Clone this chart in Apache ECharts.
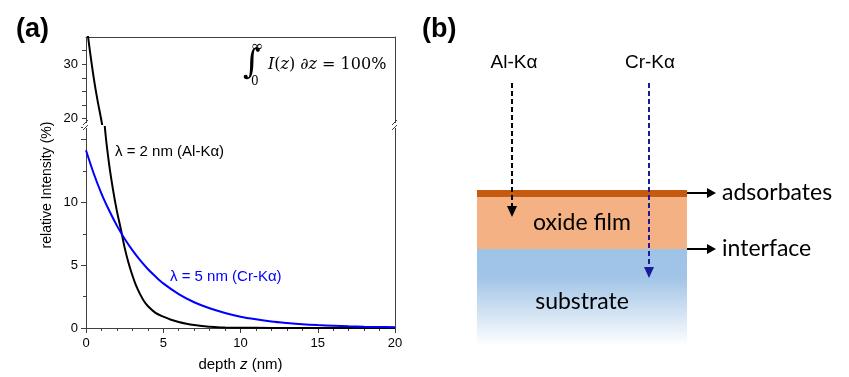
<!DOCTYPE html>
<html>
<head>
<meta charset="utf-8">
<script src="https://cdn.jsdelivr.net/npm/echarts@6/dist/echarts.min.js"></script>
<style>
  html, body { margin: 0; padding: 0; background: #fff; }
  #chart { width: 849px; height: 377px; }
</style>
</head>
<body>
<div id="chart"></div>
<script>
// depth z (nm) vs relative intensity (%)
var alDepth = [0, 0.25, 0.5, 0.75, 1.0, 1.25, 1.5, 1.75, 2.0, 2.25, 2.5, 2.75, 3.0, 3.25, 3.5, 3.75, 4.0, 4.5, 5.0, 5.5, 6.0, 6.5, 7.0, 7.5, 8.0, 8.5, 9.0, 10, 12, 14, 20];
var alInt   = [38, 32.5, 27.5, 23.3, 19.6, 15.6, 13.0, 11.0, 9.3, 7.9, 6.4, 5.2, 4.2, 3.35, 2.7, 2.15, 1.75, 1.2, 0.9, 0.66, 0.48, 0.34, 0.23, 0.15, 0.1, 0.06, 0.04, 0.02, 0.005, 0, 0];
var crDepth = [0, 0.5, 1, 1.5, 2, 2.5, 3, 3.5, 4, 4.5, 5, 6, 7, 8, 9, 10, 11, 12, 13, 14, 15, 16, 17, 18, 19, 20];
var crInt   = [14.15, 12.3, 10.7, 9.35, 8.15, 7.1, 6.2, 5.4, 4.7, 4.1, 3.55, 2.7, 2.05, 1.57, 1.2, 0.9, 0.69, 0.52, 0.4, 0.3, 0.23, 0.18, 0.13, 0.1, 0.08, 0.06];
var lowTickLabels = [0, 5, 10];
var upTickLabels = [20, 30];
var upTicks = [20, 22.5, 25, 27.5, 30, 32.5];

function pairs(xs, ys) { return xs.map(function (x, i) { return [x, ys[i]]; }); }

var axisCol = '#404040';
var font = 'Liberation Sans, Arial, sans-serif';
var diaFont = 'Lato, Noto Sans, sans-serif';

var myChart = echarts.init(document.getElementById('chart'));

var option = {
    animation: false,
    backgroundColor: '#fff',
    grid: [
        { left: 86, width: 309, top: 37, height: 87 },
        { left: 86, width: 309, top: 127, height: 203 }
    ],
    xAxis: [
        {
            gridIndex: 0, type: 'value', min: 0, max: 20, position: 'top',
            axisLine: { lineStyle: { color: axisCol } },
            axisTick: { show: false }, axisLabel: { show: false }, splitLine: { show: false }
        },
        {
            gridIndex: 1, type: 'value', min: 0, max: 20, interval: 5,
            axisLine: { onZero: false, lineStyle: { color: axisCol } },
            axisTick: { length: 5, lineStyle: { color: axisCol } },
            minorTick: { show: true, splitNumber: 5, length: 3, lineStyle: { color: axisCol } },
            axisLabel: { color: '#000', fontFamily: font, fontSize: 13, margin: 9 },
            splitLine: { show: false },
            name: '{a|depth }{i|z}{a| (nm)}', nameLocation: 'middle', nameGap: 29,
            nameTextStyle: {
                rich: {
                    a: { fontFamily: font, fontSize: 15, color: '#000' },
                    i: { fontFamily: font, fontSize: 15, fontStyle: 'italic', color: '#000' }
                }
            }
        }
    ],
    yAxis: [
        {
            gridIndex: 0, type: 'value', min: 19, max: 35,
            axisLine: { show: true, lineStyle: { color: axisCol } },
            axisTick: { show: true, length: 4, customValues: upTicks, lineStyle: { color: axisCol } },
            axisLabel: { customValues: upTickLabels, color: '#000', fontFamily: font, fontSize: 13, margin: 8 },
            splitLine: { show: false }
        },
        {
            gridIndex: 0, type: 'value', min: 19, max: 35, position: 'right',
            axisLine: { show: true, lineStyle: { color: axisCol } },
            axisTick: { show: false }, axisLabel: { show: false }, splitLine: { show: false }
        },
        {
            gridIndex: 1, type: 'value', min: 0, max: 16, interval: 5,
            axisLine: { show: true, onZero: false, lineStyle: { color: axisCol } },
            axisTick: { show: true, length: 5, lineStyle: { color: axisCol } },
            minorTick: { show: true, splitNumber: 2, length: 3, lineStyle: { color: axisCol } },
            axisLabel: {
                color: '#000', fontFamily: font, fontSize: 13, margin: 8,
                formatter: function (v) { return lowTickLabels.indexOf(v) >= 0 ? String(v) : ''; }
            },
            splitLine: { show: false }
        },
        {
            gridIndex: 1, type: 'value', min: 0, max: 16, position: 'right',
            axisLine: { show: true, onZero: false, lineStyle: { color: axisCol } },
            axisTick: { show: false }, axisLabel: { show: false }, splitLine: { show: false }
        }
    ],
    series: [
        {
            name: 'Al-Ka upper', type: 'line', xAxisIndex: 0, yAxisIndex: 0,
            data: pairs(alDepth, alInt), smooth: 0.3, symbol: 'none', clip: true,
            lineStyle: { color: '#000', width: 2 }
        },
        {
            name: 'Al-Ka', type: 'line', xAxisIndex: 1, yAxisIndex: 2,
            data: pairs(alDepth, alInt), smooth: 0.3, symbol: 'none', clip: true,
            lineStyle: { color: '#000', width: 2 }
        },
        {
            name: 'Cr-Ka', type: 'line', xAxisIndex: 1, yAxisIndex: 2,
            data: pairs(crDepth, crInt), smooth: 0.3, symbol: 'none', clip: true,
            lineStyle: { color: '#0000ff', width: 2 }
        }
    ],
    graphic: []
};

var g = option.graphic;
// panel labels
g.push({ type: 'text', x: 16, y: 30, style: { text: '(a)', font: 'bold 27px ' + font, fill: '#000', verticalAlign: 'middle' } });
g.push({ type: 'text', x: 422, y: 30, style: { text: '(b)', font: 'bold 27px ' + font, fill: '#000', verticalAlign: 'middle' } });
// y axis title spanning both panels
g.push({ type: 'text', x: 47, y: 185, rotation: Math.PI / 2,
    style: { text: 'relative Intensity (%)', font: '14px ' + font, fill: '#000', align: 'center', verticalAlign: 'middle' } });
// axis break marks
[86, 395].forEach(function (bx) {
    g.push({ type: 'rect', shape: { x: bx - 3, y: 123, width: 6, height: 5 }, style: { fill: '#fff' }, z: 50 });
    g.push({ type: 'line', shape: { x1: bx - 3, y1: 125, x2: bx + 2, y2: 120 }, style: { stroke: axisCol, lineWidth: 1 }, z: 51 });
    g.push({ type: 'line', shape: { x1: bx - 3, y1: 130, x2: bx + 2, y2: 125 }, style: { stroke: axisCol, lineWidth: 1 }, z: 51 });
});
// curve labels
g.push({ type: 'text', x: 115, y: 152, style: { text: 'λ = 2 nm (Al-Kα)', font: '15px ' + font, fill: '#000', verticalAlign: 'middle' } });
g.push({ type: 'text', x: 170, y: 277, style: { text: 'λ = 5 nm (Cr-Kα)', font: '15px ' + font, fill: '#0000ff', verticalAlign: 'middle' } });
// integral
var serif = 'DejaVu Serif, Liberation Serif, serif';
g.push({ type: 'text', x: 243, y: 64, style: { text: '∫', font: '34px ' + serif, fill: '#000', verticalAlign: 'middle' } });
g.push({ type: 'text', x: 251, y: 47, style: { text: '∞', font: '15px ' + serif, fill: '#000', verticalAlign: 'middle' } });
g.push({ type: 'text', x: 251, y: 82, style: { text: '0', font: '12px ' + serif, fill: '#000', verticalAlign: 'middle' } });
g.push({ type: 'text', x: 268, y: 65, style: {
    text: '{i|I}{r|(}{i|z}{r|) ∂}{i|z}{r| = 100%}', verticalAlign: 'middle',
    rich: {
        i: { fontFamily: serif, fontSize: 16, fontStyle: 'italic', fill: '#000' },
        r: { fontFamily: serif, fontSize: 16, fill: '#000' }
    }
} });

// panel (b) diagram
var L = 477, R = 687;
g.push({ type: 'rect', shape: { x: L, y: 249, width: R - L, height: 97 },
    style: { fill: { type: 'linear', x: 0, y: 0, x2: 0, y2: 1, colorStops: [
        { offset: 0, color: '#9dc3e6' }, { offset: 0.3, color: '#a2c5e7' }, { offset: 1, color: '#ffffff' }] } } });
g.push({ type: 'rect', shape: { x: L, y: 196, width: R - L, height: 53 }, style: { fill: '#f4b183' } });
g.push({ type: 'rect', shape: { x: L, y: 190, width: R - L, height: 7 }, style: { fill: '#c55a11' } });
g.push({ type: 'text', x: 582, y: 223, style: { text: 'oxide film', font: '23px ' + diaFont, fill: '#000', align: 'center', verticalAlign: 'middle' } });
g.push({ type: 'text', x: 582, y: 302, style: { text: 'substrate', font: '23px ' + diaFont, fill: '#000', align: 'center', verticalAlign: 'middle' } });
g.push({ type: 'text', x: 514, y: 63, style: { text: 'Al-Kα', font: '19px ' + font, fill: '#000', align: 'center', verticalAlign: 'middle' } });
g.push({ type: 'text', x: 650, y: 63, style: { text: 'Cr-Kα', font: '19px ' + font, fill: '#000', align: 'center', verticalAlign: 'middle' } });
// dashed beams
function beam(x, y0, y1, col) {
    g.push({ type: 'line', shape: { x1: x, y1: y0, x2: x, y2: y1 - 9 }, style: { stroke: col, lineWidth: 2, lineDash: [5, 3] }, z: 20 });
    g.push({ type: 'polygon', shape: { points: [[x - 5, y1 - 11], [x + 5, y1 - 11], [x, y1]] }, style: { fill: col }, z: 20 });
}
beam(512, 83, 217, '#000');
beam(649, 83, 278, '#1a1a9c');
// side arrows
function sideArrow(y, label) {
    g.push({ type: 'line', shape: { x1: R, y1: y, x2: 709, y2: y }, style: { stroke: '#000', lineWidth: 2 } });
    g.push({ type: 'polygon', shape: { points: [[707, y - 5], [716, y], [707, y + 5]] }, style: { fill: '#000' } });
    g.push({ type: 'text', x: 722, y: y, style: { text: label, font: '23px ' + diaFont, fill: '#000', verticalAlign: 'middle' } });
}
sideArrow(193, 'adsorbates');
sideArrow(249, 'interface');

myChart.setOption(option);
</script>
</body>
</html>
